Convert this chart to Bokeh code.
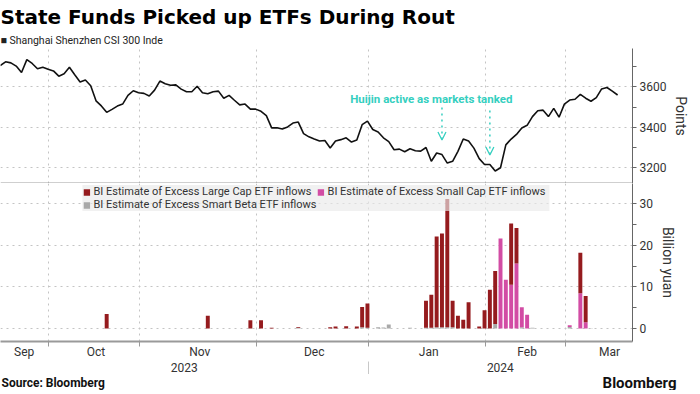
import pandas as pd
from bokeh.plotting import figure
from bokeh.layouts import column
from bokeh.models import (Range1d, FixedTicker, LinearAxis, Span, Label, Legend,
                          LegendItem, Arrow, OpenHead, Title, ColumnDataSource)
from bokeh.embed import file_html
from bokeh.resources import INLINE

# ---------------- data ----------------
holidays = ["2023-09-29", "2023-10-02", "2023-10-03", "2023-10-04", "2023-10-05",
            "2023-10-06", "2024-01-01", "2024-02-09", "2024-02-12", "2024-02-13",
            "2024-02-14", "2024-02-15", "2024-02-16"]
trade_dates = [d.strftime("%Y-%m-%d") for d in pd.bdate_range("2023-09-15", "2024-03-14")
               if d.strftime("%Y-%m-%d") not in holidays]

csi300 = [3705, 3724, 3719, 3703, 3671, 3735, 3716, 3690, 3697, 3687,
          3679, 3653, 3665, 3697, 3660, 3624, 3634, 3606, 3531, 3506,
          3474, 3489, 3505, 3515, 3558, 3581, 3571, 3568, 3555, 3584,
          3629, 3616, 3608, 3610, 3589, 3576, 3576, 3603, 3571, 3566,
          3576, 3579, 3544, 3558, 3534, 3511, 3515, 3490, 3490, 3479,
          3458, 3397, 3398, 3392, 3402, 3421, 3426, 3369, 3353, 3342,
          3332, 3335, 3298, 3332, 3339, 3348, 3327, 3337, 3413, 3431,
          3389, 3377, 3348, 3329, 3289, 3292, 3279, 3294, 3284, 3282,
          3300, 3232, 3273, 3265, 3223, 3232, 3281, 3342, 3332, 3297,
          3245, 3216, 3216, 3184, 3200, 3313, 3342, 3365, 3397, 3410,
          3453, 3482, 3485, 3453, 3494, 3450, 3515, 3535, 3539, 3563,
          3544, 3529, 3547, 3590, 3597, 3579, 3560]

flow_dates = ["2023-10-23", "2023-11-17", "2023-11-29", "2023-12-01", "2023-12-05",
              "2023-12-12", "2023-12-20", "2023-12-21", "2023-12-25", "2023-12-27",
              "2023-12-28", "2023-12-29", "2024-01-03", "2024-01-04", "2024-01-05",
              "2024-01-11", "2024-01-16", "2024-01-17", "2024-01-18", "2024-01-19",
              "2024-01-22", "2024-01-23", "2024-01-24", "2024-01-25", "2024-01-26",
              "2024-01-30", "2024-01-31", "2024-02-01", "2024-02-02", "2024-02-05",
              "2024-02-06", "2024-02-07", "2024-02-08", "2024-02-19", "2024-02-20",
              "2024-02-21", "2024-03-01", "2024-03-05", "2024-03-06", "2024-03-07"]
large_cap = [3.5, 3.1, 2.0, 2.0, 0.2, 0.15, 0.3, 0.5, 0.55, 0.5,
             4.9, 5.8, 0.0, 0.0, 0.0, 0.0, 6.5, 7.9, 21.8, 22.5,
             30.8, 6.4, 3.1, 2.1, 6.3, 0.5, 4.4, 9.3, 12.7, 0.0,
             0.0, 14.7, 8.5, 0.0, 0.0, 0.0, 0.0, 9.7, 6.3, 0.0]
small_cap = [0.0, 0.0, 0.0, 0.0, 0.0, 0.0, 0.0, 0.0, 0.0, 0.0,
             0.0, 0.0, 0.0, 0.0, 0.0, 0.0, 0.0, 0.0, 0.0, 0.0,
             0.0, 0.0, 0.0, 0.0, 0.0, 0.0, 0.0, 0.0, 0.0, 21.6,
             11.7, 10.5, 15.6, 4.8, 3.3, 0.0, 0.4, 8.5, 1.5, 0.0]
smart_beta = [0.0, 0.0, 0.0, 0.0, 0.0, 0.2, 0.0, 0.0, 0.0, 0.0,
              0.3, 0.2, 0.3, 0.25, 0.95, 0.2, 0.2, 0.2, 0.3, 0.3,
              0.3, 0.3, 0.0, 0.0, 0.0, 0.0, 0.0, 0.0, 1.1, 0.0,
              0.0, 0.0, 0.0, 0.3, 0.0, 0.2, 0.4, 0.0, 0.0, 0.1]

month_names = ["Sep", "Oct", "Nov", "Dec", "Jan", "Feb", "Mar"]
year_names = ["2023", "2024"]
series_names = ["BI Estimate of Excess Large Cap ETF inflows",
                "BI Estimate of Excess Small Cap ETF inflows",
                "BI Estimate of Excess Smart Beta ETF inflows"]
index_name = "Shanghai Shenzhen CSI 300 Inde"
annotation_text = "Huijin active as markets tanked"
arrow_dates = ["2024-01-19", "2024-02-01"]
arrow_from = [3498, 3483]
arrow_to = [3337, 3263]

# ---------------- geometry / style ----------------
RED, PINK, GREY, TEAL = "#951b1e", "#d24ca4", "#a9a9a9", "#35cfc0"
FONT = "Roboto"
TXT = "#333333"
W_FRAME = 632
H_TOP = 135
H_BOT = 158
X_END = 118.8

pos = {d: i for i, d in enumerate(trade_dates)}
xs = list(range(len(trade_dates)))
months = [d[:7] for d in trade_dates]
month_keys = list(dict.fromkeys(months))
firsts = [months.index(m) for m in month_keys]
lasts = [len(months) - 1 - months[::-1].index(m) for m in month_keys]
bounds = [f - 0.85 for f in firsts[1:]]
mids = [(f + l) / 2 for f, l in zip(firsts[:-1], lasts[:-1])] + [firsts[-1] + 7.5]
year_sep = firsts[month_keys.index("2024-01")] - 0.85
year_mids = [year_sep / 2, (year_sep + X_END) / 2]

xr = Range1d(0.05, X_END)

# ---------------- top panel ----------------
p1 = figure(frame_width=W_FRAME, frame_height=H_TOP, x_range=xr,
            y_range=Range1d(3122, 3790), y_axis_location="right",
            output_backend="svg", toolbar_location=None,
            min_border_left=0, min_border_right=0, min_border_top=0, min_border_bottom=0)
p1.outline_line_color = None
p1.xaxis.visible = False
p1.line(x=xs, y=csi300, line_color="#111111", line_width=1.6)

p1.xgrid.ticker = FixedTicker(ticks=bounds)
for g in (p1.xgrid, p1.ygrid):
    g.grid_line_dash = "dotted"
    g.grid_line_color = "#c4c4c4"

ya = p1.yaxis[0]
ya.ticker = FixedTicker(ticks=[3200, 3400, 3600], minor_ticks=[3300, 3500, 3700])
ya.axis_label = "Points"

p1.add_layout(Span(location=3122, dimension="width", line_color="#a0a0a0", line_width=2))

p1.add_layout(Label(x=pos["2024-01-17"], y=3541, text=annotation_text,
                    text_align="center", text_baseline="middle", text_color=TEAL,
                    text_font=FONT, text_font_style="bold", text_font_size="11.5px"))
for d, y0, y1 in zip(arrow_dates, arrow_from, arrow_to):
    p1.add_layout(Arrow(x_start=pos[d], y_start=y0, x_end=pos[d], y_end=y1,
                        line_color=TEAL, line_width=1.5, line_dash="dotted",
                        end=OpenHead(size=8, line_color=TEAL, line_width=1.3)))

p1.add_layout(Title(text="\u25a0 " + index_name, text_font_size="10.5px",
                    text_font_style="normal", text_color="#222222", text_font=FONT,
                    standoff=3), "above")
p1.add_layout(Title(text="State Funds Picked up ETFs During Rout", text_font_size="20px",
                    text_font_style="bold", text_color="#000000", text_font="DejaVu Sans",
                    standoff=4), "above")

# ---------------- bottom panel ----------------
p2 = figure(frame_width=W_FRAME, frame_height=H_BOT, x_range=xr,
            y_range=Range1d(-3.1, 34.8), y_axis_location="right",
            output_backend="svg", toolbar_location=None,
            min_border_left=0, min_border_right=0, min_border_top=0, min_border_bottom=0)
p2.outline_line_color = None

src = ColumnDataSource(dict(x=[pos[d] for d in flow_dates], large=large_cap,
                            small=small_cap, smart=smart_beta))
rs = p2.vbar_stack(["smart", "small", "large"], x="x", width=0.74,
                   color=[GREY, PINK, RED], line_color=None, source=src)

p2.xgrid.ticker = FixedTicker(ticks=bounds)
for g in (p2.xgrid, p2.ygrid):
    g.grid_line_dash = "dotted"
    g.grid_line_color = "#c4c4c4"

yb = p2.yaxis[0]
yb.ticker = FixedTicker(ticks=[0, 10, 20, 30], minor_ticks=[5, 15, 25])
yb.axis_label = "Billion yuan"

xa = p2.xaxis[0]
xa.ticker = FixedTicker(ticks=mids, minor_ticks=bounds)
xa.major_label_overrides = {m: n for m, n in zip(mids, month_names)}
xa.major_tick_line_color = None
xa.axis_line_color = "#9a9a9a"
xa.axis_line_width = 2
xa.minor_tick_line_color = "#9a9a9a"
xa.minor_tick_in = 0
xa.minor_tick_out = 5
xa.major_label_standoff = -3

yax = LinearAxis(ticker=FixedTicker(ticks=year_mids, minor_ticks=[year_sep]),
                 major_label_overrides={m: n for m, n in zip(year_mids, year_names)},
                 axis_line_color=None, major_tick_line_color=None,
                 minor_tick_line_color="#c8c8c8", minor_tick_in=0, minor_tick_out=14,
                 major_label_standoff=-13)
p2.add_layout(yax, "below")

legend = Legend(items=[LegendItem(label=series_names[0], renderers=[rs[2]]),
                       LegendItem(label=series_names[1], renderers=[rs[1]]),
                       LegendItem(label=series_names[2], renderers=[rs[0]])],
                location="top", orientation="horizontal", ncols=2,
                background_fill_color="#e9e9e9", background_fill_alpha=0.65,
                border_line_color=None, label_text_font=FONT, label_text_font_size="11px",
                label_text_color=TXT, glyph_width=8, glyph_height=8, label_height=10,
                label_standoff=3, spacing=0, padding=5, margin=2, label_width=222)
p2.add_layout(legend)

# ---------------- source row ----------------
p3 = figure(frame_width=684, frame_height=16, x_range=Range1d(0, 684),
            y_range=Range1d(0, 16), output_backend="svg", toolbar_location=None,
            min_border_left=0, min_border_right=0, min_border_top=0, min_border_bottom=0)
p3.outline_line_color = None
p3.axis.visible = False
p3.grid.visible = False
p3.add_layout(Label(x=1, y=8, text="Source: Bloomberg", text_align="left",
                    text_baseline="middle", text_color="#111111", text_font=FONT,
                    text_font_style="bold", text_font_size="12px"))
p3.add_layout(Label(x=676, y=8, text="Bloomberg", text_align="right",
                    text_baseline="middle", text_color="#111111", text_font=FONT,
                    text_font_style="bold", text_font_size="15px"))

# ---------------- shared axis styling ----------------
for ax in (ya, yb, xa, yax):
    ax.major_label_text_font = FONT
    ax.major_label_text_font_size = "12px"
    ax.major_label_text_color = TXT
for ax in (ya, yb):
    ax.axis_line_color = "#666666"
    ax.major_tick_line_color = "#666666"
    ax.minor_tick_line_color = "#666666"
    ax.major_tick_in = 0
    ax.major_tick_out = 4
    ax.minor_tick_in = 0
    ax.minor_tick_out = 4
    ax.major_label_standoff = 3
    ax.axis_label_text_font = FONT
    ax.axis_label_text_font_size = "14px"
    ax.axis_label_text_font_style = "normal"
    ax.axis_label_text_color = TXT
    ax.axis_label_standoff = 4

page = column(p1, p2, p3, spacing=0)
open("out.html", "w").write(file_html(page, INLINE))
